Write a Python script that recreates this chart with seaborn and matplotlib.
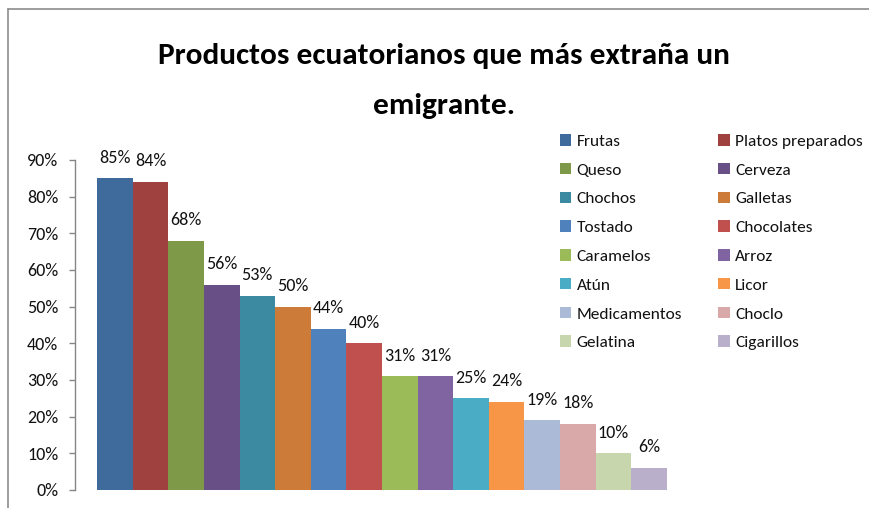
import matplotlib
matplotlib.use("Agg")
import matplotlib.pyplot as plt
from matplotlib.lines import Line2D
from matplotlib.patches import Patch
import seaborn as sns
import pandas as pd

productos = ["Frutas", "Platos preparados", "Queso", "Cerveza", "Chochos", "Galletas",
             "Tostado", "Chocolates", "Caramelos", "Arroz", "Atún", "Licor",
             "Medicamentos", "Choclo", "Gelatina", "Cigarillos"]
porcentajes = [85, 84, 68, 56, 53, 50, 44, 40, 31, 31, 25, 24, 19, 18, 10, 6]
colores = ["#3F6A9C", "#9E413F", "#7E9A48", "#684F86", "#3C8AA2", "#CC7B38",
           "#4F81BD", "#C0504D", "#9BBB59", "#8064A2", "#4BACC6", "#F79646",
           "#AABAD7", "#D9A9A9", "#C7D6AC", "#B9AFCA"]
y_ticks = [0, 10, 20, 30, 40, 50, 60, 70, 80, 90]
titulo = "Productos ecuatorianos que más extraña un\nemigrante."

sns.set_theme(style="white")
plt.rcParams["font.family"] = ["Carlito", "DejaVu Sans"]

df = pd.DataFrame({"producto": productos, "valor": porcentajes})

fig = plt.figure(figsize=(8.69, 5.08), dpi=100)
W, H = 869, 508
ax = fig.add_axes([75 / W, 1 - 490 / H, (689 - 75) / W, (490 - 160) / H])

sns.barplot(data=df, x="producto", y="valor", hue="producto", palette=colores,
            order=productos, hue_order=productos, width=1.0, dodge=False,
            legend=False, saturation=1, ax=ax, edgecolor="none", linewidth=0)

for cont, v in zip(ax.containers, porcentajes):
    ax.bar_label(cont, labels=[f"{v}%"], padding=9, fontsize=13, color="#111111")

pad = 22 / 35.6
ax.set_xlim(-0.5 - pad, len(productos) - 0.5 + pad)
ax.set_ylim(0, 90)
ax.set_yticks(y_ticks)
ax.set_yticklabels([f"{t}%" for t in y_ticks], fontsize=13, color="#111111")
ax.set_xticks([])
ax.set_xlabel("")
ax.set_ylabel("")
for s in ["top", "right", "bottom"]:
    ax.spines[s].set_visible(False)
ax.spines["left"].set_color("#868686")
ax.spines["left"].set_linewidth(1)
ax.tick_params(axis="y", which="both", left=True, length=4, width=1,
               color="#868686", pad=8)

fig.text(444 / W, 1 - 81 / H, titulo, ha="center", va="center",
         fontsize=22.5, fontweight="bold", color="#000000", linespacing=2.12)

# legend: two columns, filled row by row
handles = [Patch(facecolor=c, edgecolor="none") for c in colores]
order = list(range(0, 16, 2)) + list(range(1, 16, 2))
leg = fig.legend([handles[i] for i in order], [productos[i] for i in order],
                 ncol=2, loc="upper left", bbox_to_anchor=(560 / W, 1 - 134 / H),
                 frameon=False, fontsize=12.5, handlelength=0.65, handleheight=0.65,
                 handletextpad=0.3, labelspacing=0.8, columnspacing=2.1,
                 borderaxespad=0, borderpad=0)
for t in leg.get_texts():
    t.set_color("#111111")

# chart area border
fig.add_artist(Line2D([8 / W, 1], [1 - 9 / H, 1 - 9 / H], color="#8C8C8C", lw=1.2))
fig.add_artist(Line2D([8 / W, 8 / W], [0, 1 - 9 / H], color="#8C8C8C", lw=1.2))

fig.savefig("out.png", dpi=100)
